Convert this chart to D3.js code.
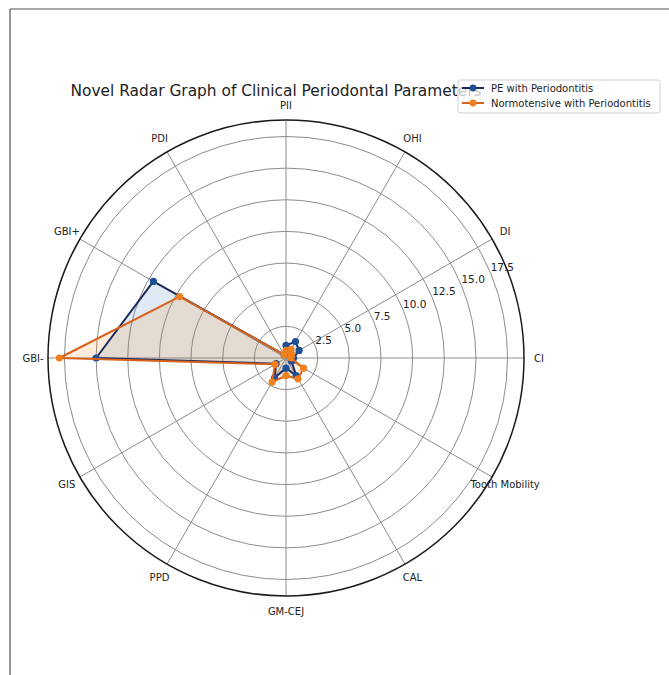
<!DOCTYPE html>
<html>
<head>
<meta charset="utf-8">
<script src="https://cdn.jsdelivr.net/npm/d3@7"></script>
<style>
  body { margin: 0; background: #fff; }
  svg { display: block; font-family: "DejaVu Sans", sans-serif; }
</style>
</head>
<body>
<div id="chart"></div>
<script>
// categories counter-clockwise from the east (CI) as matplotlib lays them out
var categories = ["CI", "DI", "OHI", "PII", "PDI", "GBI+", "GBI-", "GIS", "PPD", "GM-CEJ", "CAL", "Tooth Mobility"];
var peValues = [0.6, 1.2, 1.5, 1.0, 0.3, 12.1, 15.0, 0.9, 1.8, 0.8, 1.6, 0.5];
var normoValues = [0.4, 0.5, 0.8, 0.6, 0.3, 9.7, 17.9, 1.0, 2.2, 1.4, 1.9, 1.6];
var radialTicks = [2.5, 5.0, 7.5, 10.0, 12.5, 15.0, 17.5];
var seriesNames = ["PE with Periodontitis", "Normotensive with Periodontitis"];

var W = 669, H = 675;
var cx = 286, cy = 358, R = 238;
var rMax = 18.8;

var svg = d3.select("#chart").append("svg")
    .attr("width", W).attr("height", H);

// figure frame (top and left edges visible)
svg.append("line").attr("x1", 10).attr("y1", 9).attr("x2", W).attr("y2", 9)
    .attr("stroke", "#555").attr("stroke-width", 1.2);
svg.append("line").attr("x1", 10).attr("y1", 9).attr("x2", 10).attr("y2", H)
    .attr("stroke", "#555").attr("stroke-width", 1.2);

var r = d3.scaleLinear().domain([0, rMax]).range([0, R]);
var angle = d3.scaleLinear().domain([0, categories.length]).range([0, 2 * Math.PI]);

// screen position of (category index, value): angle measured ccw from east
function px(i, v) { return cx + r(v) * Math.cos(angle(i)); }
function py(i, v) { return cy - r(v) * Math.sin(angle(i)); }

var g = svg.append("g");

// rings
g.selectAll("circle.ring").data(radialTicks).enter().append("circle")
    .attr("class", "ring")
    .attr("cx", cx).attr("cy", cy).attr("r", function(d){ return r(d); })
    .attr("fill", "none").attr("stroke", "#8c8c8c").attr("stroke-width", 1);

// spokes
g.selectAll("line.spoke").data(categories).enter().append("line")
    .attr("class", "spoke")
    .attr("x1", cx).attr("y1", cy)
    .attr("x2", function(d, i){ return px(i, rMax); })
    .attr("y2", function(d, i){ return py(i, rMax); })
    .attr("stroke", "#8c8c8c").attr("stroke-width", 1);

// outer frame circle
g.append("circle").attr("cx", cx).attr("cy", cy).attr("r", R)
    .attr("fill", "none").attr("stroke", "#1a1a1a").attr("stroke-width", 1.5);

// radial tick labels at 22.5 degrees
var rlab = 22.5 * Math.PI / 180;
g.selectAll("text.rtick").data(radialTicks).enter().append("text")
    .attr("class", "rtick")
    .attr("x", function(d){ return cx + r(d) * Math.cos(rlab); })
    .attr("y", function(d){ return cy - r(d) * Math.sin(rlab) - 2; })
    .attr("font-size", 10.5).attr("fill", "#222")
    .text(function(d){ return d.toFixed(1); });

// category labels, centred on their anchor like matplotlib theta ticks
g.selectAll("text.cat").data(categories).enter().append("text")
    .attr("class", "cat")
    .attr("x", function(d, i){ return cx + (R + 15) * Math.cos(angle(i)); })
    .attr("y", function(d, i){ return cy - (R + 15) * Math.sin(angle(i)); })
    .attr("text-anchor", "middle")
    .attr("dominant-baseline", "central")
    .attr("font-size", 10).attr("fill", "#222")
    .text(function(d){ return d; });

var series = [
    {name: seriesNames[0], values: peValues, line: "#1b2a5e", mark: "#1f4f94", fill: "#1f77b4"},
    {name: seriesNames[1], values: normoValues, line: "#d8621c", mark: "#f07f1e", fill: "#ff7f0e"}
];

var radial = d3.lineRadial()
    .angle(function(d, i){ return Math.PI / 2 - angle(i); })
    .radius(function(d){ return r(d); })
    .curve(d3.curveLinearClosed);

var plot = svg.append("g").attr("transform", "translate(" + cx + "," + cy + ")");

series.forEach(function(s){
    plot.append("path").attr("d", radial(s.values))
        .attr("fill", s.fill).attr("fill-opacity", 0.15).attr("stroke", "none");
});
series.forEach(function(s){
    plot.append("path").attr("d", radial(s.values))
        .attr("fill", "none").attr("stroke", s.line).attr("stroke-width", 2)
        .attr("stroke-linejoin", "round");
    plot.selectAll(null).data(s.values).enter().append("circle")
        .attr("cx", function(d, i){ return px(i, d) - cx; })
        .attr("cy", function(d, i){ return py(i, d) - cy; })
        .attr("r", 3.6)
        .attr("fill", s.mark);
});

// title
svg.append("text").attr("x", 276).attr("y", 96)
    .attr("text-anchor", "middle").attr("font-size", 15.4).attr("fill", "#222")
    .text("Novel Radar Graph of Clinical Periodontal Parameters");

// legend
var lg = svg.append("g").attr("transform", "translate(458,80)");
lg.append("rect").attr("width", 202).attr("height", 33).attr("rx", 2.5)
    .attr("fill", "#fff").attr("fill-opacity", 0.75)
    .attr("stroke", "#cfcfcf").attr("stroke-width", 1);
series.forEach(function(s, k){
    var y = 8 + k * 15;
    lg.append("line").attr("x1", 4).attr("x2", 26).attr("y1", y).attr("y2", y)
        .attr("stroke", s.line).attr("stroke-width", 2);
    lg.append("circle").attr("cx", 15).attr("cy", y).attr("r", 3.4).attr("fill", s.mark);
    lg.append("text").attr("x", 33).attr("y", y).attr("dominant-baseline", "central")
        .attr("font-size", 10).attr("fill", "#222").text(s.name);
});
</script>
</body>
</html>
